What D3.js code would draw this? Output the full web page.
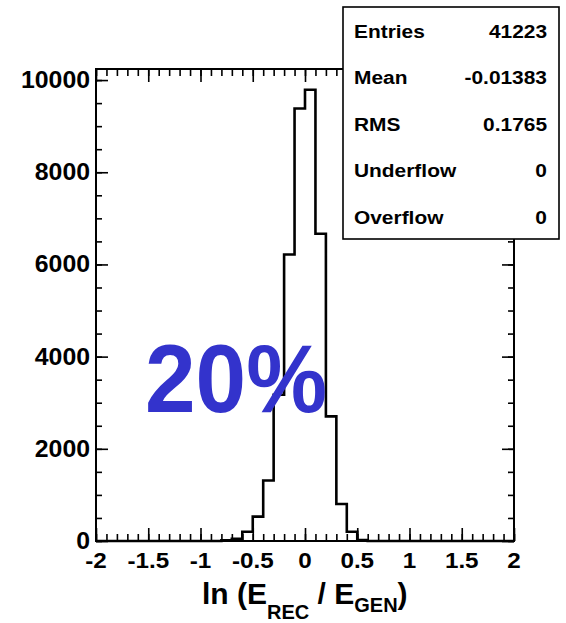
<!DOCTYPE html>
<html>
<head>
<meta charset="utf-8">
<script src="https://cdn.jsdelivr.net/npm/d3@7"></script>
<style>
  html, body { margin: 0; padding: 0; background: #fff; }
  svg { display: block; }
  text { font-family: "Liberation Sans", Arial, Helvetica, sans-serif; font-weight: bold; fill: #000; }
</style>
</head>
<body>
<svg id="chart" width="566" height="623"></svg>
<script>
(function () {
  "use strict";

  // histogram: bin lower edges (width 0.1) and contents
  const binStarts = [-0.8, -0.7, -0.6, -0.5, -0.4, -0.3, -0.2, -0.1, 0.0, 0.1, 0.2, 0.3, 0.4, 0.5];
  const counts = [15, 50, 200, 528, 1311, 3174, 6217, 9384, 9790, 6667, 2703, 804, 202, 20];
  const binWidth = 0.1;

  const xTicks = [-2, -1.5, -1, -0.5, 0, 0.5, 1, 1.5, 2];
  const xTickLabels = ["-2", "-1.5", "-1", "-0.5", "0", "0.5", "1", "1.5", "2"];
  const yTicks = [0, 2000, 4000, 6000, 8000, 10000];

  const statLabels = ["Entries", "Mean", "RMS", "Underflow", "Overflow"];
  const statValues = ["41223", "-0.01383", "0.1765", "0", "0"];

  const X_DOMAIN = [-2, 2];
  const Y_MAX = 10240;

  const frame = { left: 96, right: 514, top: 69, bottom: 541 };

  const svg = d3.select("#chart");

  const x = d3.scaleLinear().domain(X_DOMAIN).range([frame.left, frame.right]);
  const y = d3.scaleLinear().domain([0, Y_MAX]).range([frame.bottom, frame.top]);

  // minor tick positions
  const xMinor = d3.range(-20, 21).map((d) => d / 10);
  const yMinor = d3.range(0, Y_MAX, 500);

  function tickAxis(axis, cls) {
    const g = svg.append("g").attr("class", cls).call(axis);
    g.select(".domain").remove();
    g.selectAll("line").attr("stroke", "#000").attr("stroke-width", 1.6);
    return g;
  }

  // bottom + top x ticks (inside the frame)
  tickAxis(d3.axisBottom(x).tickValues(xMinor).tickSize(-7).tickFormat(""), "x-minor")
    .attr("transform", `translate(0,${frame.bottom})`);
  tickAxis(d3.axisBottom(x).tickValues(xTicks).tickSize(-13).tickFormat(""), "x-major")
    .attr("transform", `translate(0,${frame.bottom})`);
  tickAxis(d3.axisTop(x).tickValues(xMinor).tickSize(-7).tickFormat(""), "x-minor-top")
    .attr("transform", `translate(0,${frame.top})`);
  tickAxis(d3.axisTop(x).tickValues(xTicks).tickSize(-13).tickFormat(""), "x-major-top")
    .attr("transform", `translate(0,${frame.top})`);

  // left + right y ticks
  tickAxis(d3.axisLeft(y).tickValues(yMinor).tickSize(-6).tickFormat(""), "y-minor")
    .attr("transform", `translate(${frame.left},0)`);
  tickAxis(d3.axisLeft(y).tickValues(yTicks).tickSize(-12).tickFormat(""), "y-major")
    .attr("transform", `translate(${frame.left},0)`);
  tickAxis(d3.axisRight(y).tickValues(yMinor).tickSize(-6).tickFormat(""), "y-minor-r")
    .attr("transform", `translate(${frame.right},0)`);
  tickAxis(d3.axisRight(y).tickValues(yTicks).tickSize(-12).tickFormat(""), "y-major-r")
    .attr("transform", `translate(${frame.right},0)`);

  // tick labels (the original text is a bit wider than tall, so stretch x)
  svg.append("g")
    .selectAll("text")
    .data(xTicks)
    .join("text")
    .attr("transform", (d) => `translate(${x(d)},${frame.bottom + 27}) scale(1.1,1)`)
    .attr("text-anchor", "middle")
    .attr("font-size", 22)
    .text((d, i) => xTickLabels[i]);

  svg.append("g")
    .selectAll("text")
    .data(yTicks)
    .join("text")
    .attr("transform", (d) => `translate(${frame.left - 6},${y(d) + 8}) scale(1.08,1)`)
    .attr("text-anchor", "end")
    .attr("font-size", 23)
    .text((d) => d);

  // histogram outline
  const pts = [[X_DOMAIN[0], 0], [binStarts[0], 0]];
  binStarts.forEach((b, i) => {
    pts.push([b, counts[i]]);
    pts.push([b + binWidth, counts[i]]);
  });
  pts.push([binStarts[binStarts.length - 1] + binWidth, 0]);
  pts.push([X_DOMAIN[1], 0]);

  svg.append("path")
    .attr("d", d3.line().x((d) => x(d[0])).y((d) => y(d[1]))(pts))
    .attr("fill", "none")
    .attr("stroke", "#000")
    .attr("stroke-width", 2.6)
    .attr("stroke-linejoin", "miter");

  // frame
  svg.append("rect")
    .attr("x", frame.left)
    .attr("y", frame.top)
    .attr("width", frame.right - frame.left)
    .attr("height", frame.bottom - frame.top)
    .attr("fill", "none")
    .attr("stroke", "#000")
    .attr("stroke-width", 2);

  // x-axis title: ln (E_REC / E_GEN)
  const title = svg.append("text")
    .attr("x", 202)
    .attr("y", 604)
    .attr("text-anchor", "start")
    .attr("font-size", 30);
  title.append("tspan").text("ln (E");
  title.append("tspan").attr("font-size", 20).attr("dy", 15).text("REC");
  title.append("tspan").attr("dy", -15).text(" / E");
  title.append("tspan").attr("font-size", 20).attr("dy", 8).text("GEN");
  title.append("tspan").attr("dy", -8).text(")");

  // big label
  svg.append("text")
    .attr("x", 145)
    .attr("y", 411.5)
    .attr("text-anchor", "start")
    .attr("font-size", 96)
    .attr("textLength", 182)
    .attr("lengthAdjust", "spacingAndGlyphs")
    .style("fill", "#3333cc")
    .text("20%");

  // stats box
  const box = { x: 343, y: 7, w: 216, h: 232 };
  svg.append("rect")
    .attr("x", box.x)
    .attr("y", box.y)
    .attr("width", box.w)
    .attr("height", box.h)
    .attr("fill", "#fff")
    .attr("stroke", "#000")
    .attr("stroke-width", 1.6);

  const rowY = d3.scalePoint().domain(statLabels).range([37.5, 224]);

  svg.append("g")
    .selectAll("text")
    .data(statLabels)
    .join("text")
    .attr("transform", (d) => `translate(${box.x + 11},${rowY(d)}) scale(1.1,1)`)
    .attr("font-size", 19)
    .text((d) => d);

  svg.append("g")
    .selectAll("text")
    .data(statValues)
    .join("text")
    .attr("transform", (d, i) => `translate(${box.x + box.w - 12},${rowY(statLabels[i])}) scale(1.1,1)`)
    .attr("text-anchor", "end")
    .attr("font-size", 19)
    .text((d) => d);
})();
</script>
</body>
</html>
